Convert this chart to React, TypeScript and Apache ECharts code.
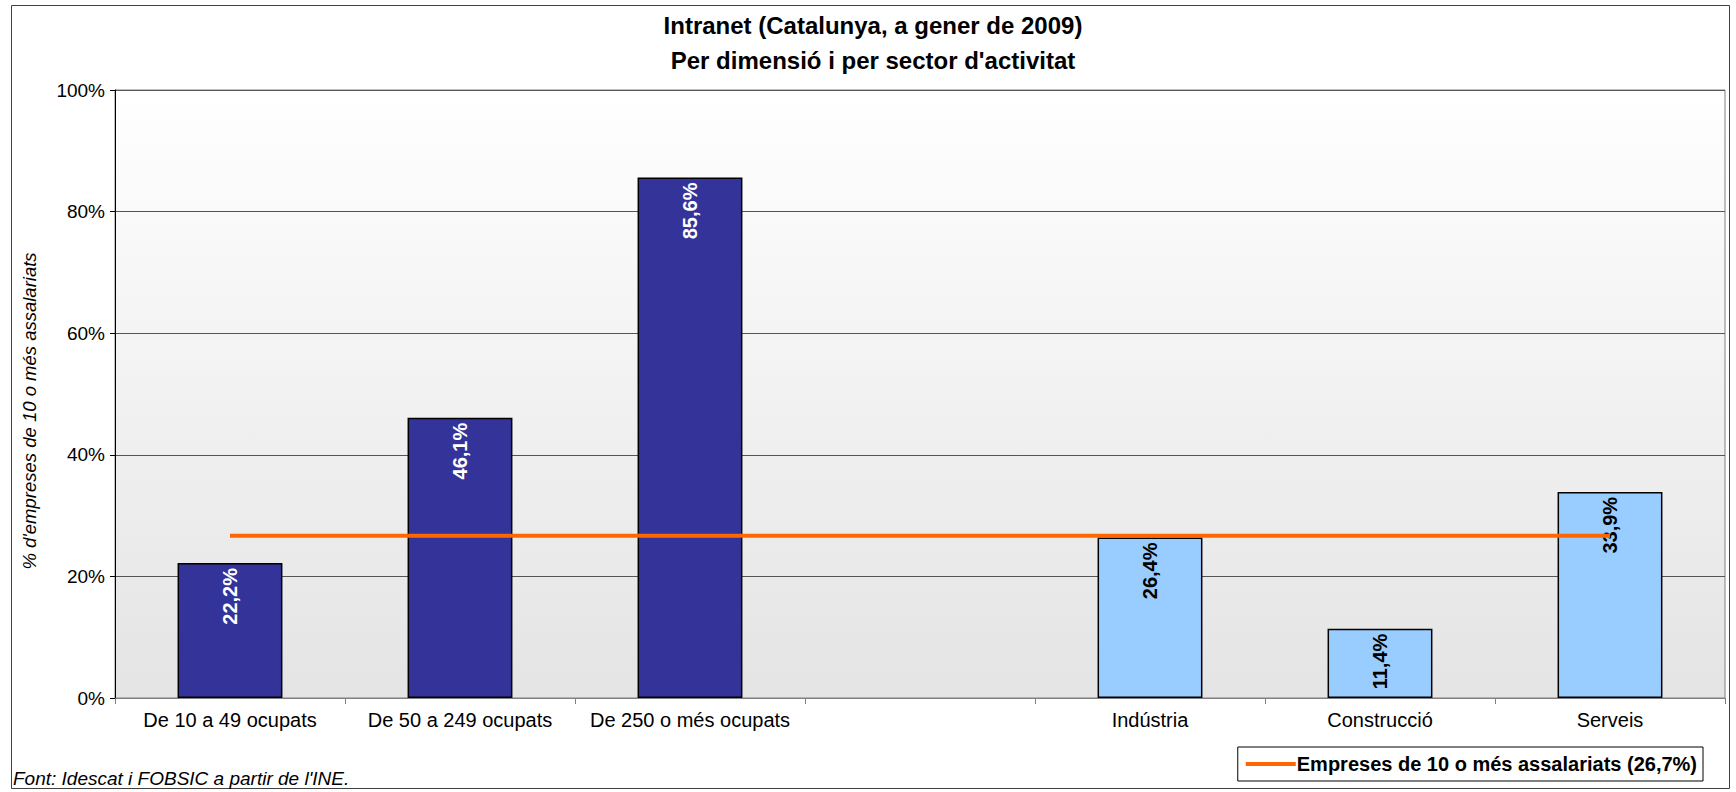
import React, { useEffect, useRef } from "react";
import * as echarts from "echarts";

const categories = [
  "De 10 a 49 ocupats",
  "De 50 a 249 ocupats",
  "De 250 o més ocupats",
  "",
  "Indústria",
  "Construcció",
  "Serveis",
];
// group: 0 = per dimensió, 1 = per sector, -1 = buit
const groups = [0, 0, 0, -1, 1, 1, 1];
const values: (number | null)[] = [22.2, 46.1, 85.6, null, 26.4, 11.4, 33.9];
const average = [26.7, 26.7, 26.7, 26.7, 26.7, 26.7, 26.7];
const yTicks = [0, 20, 40, 60, 80, 100];

const titleLines = ["Intranet (Catalunya, a gener de 2009)", "Per dimensió i per sector d'activitat"];
const yName = "% d'empreses de 10 o més assalariats";
const lineName = "Empreses de 10 o més assalariats (26,7%)";
const sourceText = "Font: Idescat i FOBSIC a partir de l'INE.";

const FONT = "'Liberation Sans', Arial, sans-serif";
const barColors = ["#333399", "#99CCFF"];
const labelColors = ["#FFFFFF", "#000000"];

const fmt = (v: number) => v.toFixed(1).replace(".", ",") + "%";

export default function App() {
  const ref = useRef<HTMLDivElement>(null);
  useEffect(() => {
    document.body.style.margin = "0";
    const chart = echarts.init(ref.current!, null, { renderer: "svg" });
    const barData = values.map((v, i) =>
      v === null
        ? null
        : {
            value: v,
            itemStyle: { color: barColors[groups[i]] },
            label: { color: labelColors[groups[i]] },
          }
    );
    chart.setOption({
      animation: false,
      backgroundColor: "#FFFFFF",
      textStyle: { fontFamily: FONT },
      graphic: [
        {
          type: "rect",
          shape: { x: 11.5, y: 5.5, width: 1718, height: 783 },
          style: { fill: "none", stroke: "#404040", lineWidth: 1 },
          silent: true,
        },
        {
          type: "text",
          x: 873,
          y: 25,
          style: {
            text: titleLines[0],
            font: `bold 24px ${FONT}`,
            fill: "#000",
            textAlign: "center",
            textVerticalAlign: "middle",
          },
        },
        {
          type: "text",
          x: 873,
          y: 60,
          style: {
            text: titleLines[1],
            font: `bold 24px ${FONT}`,
            fill: "#000",
            textAlign: "center",
            textVerticalAlign: "middle",
          },
        },
        {
          type: "text",
          x: 29,
          y: 411,
          rotation: Math.PI / 2,
          style: {
            text: yName,
            font: `italic 18.5px ${FONT}`,
            fill: "#000",
            textAlign: "center",
            textVerticalAlign: "middle",
          },
        },
        {
          type: "text",
          left: 13,
          top: 769,
          style: {
            text: sourceText,
            font: `italic 19px ${FONT}`,
            fill: "#000",
          },
        },
      ],
      legend: {
        data: [lineName],
        right: 33,
        top: 747,
        orient: "horizontal",
        borderColor: "#000",
        borderWidth: 1,
        padding: [7, 6, 7, 8],
        itemWidth: 50,
        itemHeight: 4,
        itemGap: 0,
        icon: "rect",
        textStyle: { fontFamily: FONT, fontWeight: "bold", fontSize: 20, color: "#000", padding: [0, 0, 0, -4] },
      },
      grid: {
        left: 115,
        right: 11,
        top: 90,
        bottom: 94,
        show: true,
        borderColor: "#808080",
        borderWidth: 1,
        backgroundColor: new echarts.graphic.LinearGradient(0, 0, 0, 1, [
          { offset: 0, color: "#FFFFFF" },
          { offset: 1, color: "#E4E4E4" },
        ]),
      },
      xAxis: {
        type: "category",
        data: categories,
        axisLine: { show: true, lineStyle: { color: "#808080", width: 1 } },
        axisTick: { show: true, interval: 0, length: 6, lineStyle: { color: "#808080" } },
        axisLabel: { interval: 0, color: "#000", fontSize: 20, margin: 12, fontFamily: FONT },
      },
      yAxis: {
        type: "value",
        min: 0,
        max: 100,
        interval: 20,
        axisLine: { show: true, lineStyle: { color: "#000", width: 1 } },
        axisTick: { show: true, length: 5, lineStyle: { color: "#000" } },
        axisLabel: {
          color: "#000",
          fontSize: 19,
          margin: 10,
          fontFamily: FONT,
          formatter: (v: number) => (yTicks.includes(v) ? v + "%" : ""),
        },
        splitLine: { show: true, lineStyle: { color: "#555555", width: 1 } },
      },
      series: [
        {
          type: "bar",
          data: barData,
          barWidth: "45.6%",
          itemStyle: { borderColor: "#000", borderWidth: 1.5 },
          label: {
            show: true,
            position: "insideTop",
            rotate: 90,
            align: "right",
            verticalAlign: "middle",
            distance: 5,
            fontWeight: "bold",
            fontSize: 20,
            fontFamily: FONT,
            formatter: (p: any) => fmt(p.value),
          },
          z: 2,
        },
        {
          type: "line",
          name: lineName,
          data: average,
          symbol: "none",
          lineStyle: { color: "#FF6600", width: 4 },
          itemStyle: { color: "#FF6600" },
          z: 3,
        },
      ],
    });
    return () => chart.dispose();
  }, []);
  return <div ref={ref} style={{ width: 1736, height: 792, position: "absolute", left: 0, top: 0 }} />;
}
